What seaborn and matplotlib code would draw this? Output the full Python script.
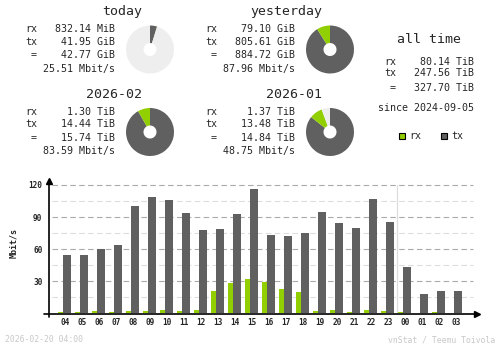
import numpy as np
import pandas as pd
import seaborn as sns
import matplotlib
matplotlib.use("Agg")
import matplotlib.pyplot as plt
from matplotlib.patches import Rectangle

# ---------------------------------------------------------------- data
hours = ["04", "05", "06", "07", "08", "09", "10", "11", "12", "13", "14", "15",
         "16", "17", "18", "19", "20", "21", "22", "23", "00", "01", "02", "03"]
rx_rate = [1.2, 1.2, 2.2, 1.2, 2.2, 2.2, 3.1, 2.2, 3.1, 20.9, 28.4, 32.1,
           29.3, 22.8, 20.0, 2.2, 3.1, 1.2, 3.1, 2.2, 1.2, 0.0, 1.2, 0.0]
tx_rate = [54.5, 54.5, 60.2, 63.9, 100.4, 108.8, 106.0, 93.8, 77.9, 78.9, 92.9, 116.3,
           73.3, 72.3, 75.1, 94.8, 84.5, 79.8, 106.9, 85.4, 43.3, 18.1, 20.9, 20.9]
y_ticks = [30, 60, 90, 120]
y_minor = [15, 45, 75, 105]

period_titles = ["today", "yesterday", "2026-02", "2026-01"]
period_rx = ["832.14 MiB", "79.10 GiB", "1.30 TiB", "1.37 TiB"]
period_tx = ["41.95 GiB", "805.61 GiB", "14.44 TiB", "13.48 TiB"]
period_total = ["42.77 GiB", "884.72 GiB", "15.74 TiB", "14.84 TiB"]
period_rate = ["25.51 Mbit/s", "87.96 Mbit/s", "83.59 Mbit/s", "48.75 Mbit/s"]
# pie amounts (GiB for days, TiB for months) and the reference used for a full circle
pie_rx = [832.14 / 1024, 79.10, 1.30, 1.37]
pie_tx = [41.95, 805.61, 14.44, 13.48]
pie_full = [884.72, 884.72, 15.74, 15.74]

alltime_rx = "80.14 TiB"
alltime_tx = "247.56 TiB"
alltime_total = "327.70 TiB"
since_text = "since 2024-09-05"
stamp_text = "2026-02-20 04:00"
credit_text = "vnStat / Teemu Toivola"

RX = "#92cf00"
TX = "#606060"
PIE_BG = "#eeeeee"
FAINT = "#c8c8c8"

# ---------------------------------------------------------------- figure
sns.set_style("white")
plt.rcParams["font.family"] = ["DejaVu Sans Mono"]

W, H = 500, 348
fig = plt.figure(figsize=(W / 100, H / 100), dpi=100)
fig.patch.set_facecolor("white")


def txt(x, y, s, ha="left", size=7.2, **kw):
    fig.text(x / W, 1 - y / H, s, ha=ha, va="center", fontsize=size, **kw)


def pie(cx, cy, tx, rx, full):
    r = 24
    ax = fig.add_axes([(cx - r) / W, 1 - (cy + r) / H, 2 * r / W, 2 * r / H])
    rest = max(full - tx - rx, 0.0)
    ax.pie([tx, rx, rest], colors=[TX, RX, PIE_BG], startangle=90,
           counterclock=False, radius=1,
           wedgeprops=dict(width=1 - 6.5 / r, linewidth=0))
    ax.set_xlim(-1, 1)
    ax.set_ylim(-1, 1)
    ax.set_aspect("equal")
    ax.axis("off")


# period summaries: 2x2 blocks
for i in range(4):
    dx = 180 * (i % 2)
    dy = 82.5 * (i // 2)
    txt(142 + dx, 11.7 + dy, period_titles[i], ha="right", size=9.5)
    txt(25 + dx, 29.3 + dy, "rx")
    txt(25 + dx, 41.7 + dy, "tx")
    txt(25 + dx, 55.0 + dy, " =")
    txt(115 + dx, 29.3 + dy, period_rx[i], ha="right")
    txt(115 + dx, 41.7 + dy, period_tx[i], ha="right")
    txt(115 + dx, 55.0 + dy, period_total[i], ha="right")
    txt(115 + dx, 69.0 + dy, period_rate[i], ha="right")
    pie(150 + dx, 49.5 + dy, pie_tx[i], pie_rx[i], pie_full[i])

# all time block
txt(429, 39.5, "all time", ha="center", size=9.5)
txt(384, 61.7, "rx")
txt(384, 73.3, "tx")
txt(384, 87.7, " =")
txt(474, 61.7, alltime_rx, ha="right")
txt(474, 73.3, alltime_tx, ha="right")
txt(474, 87.7, alltime_total, ha="right")
txt(474, 107.7, since_text, ha="right")

# legend
for x0, col, lab in [(398.5, RX, "rx"), (440.5, TX, "tx")]:
    fig.patches.append(Rectangle((x0 / W, 1 - 139.3 / H), 6 / W, 6 / H,
                                 transform=fig.transFigure, facecolor=col,
                                 edgecolor="black", linewidth=0.8))
    txt(x0 + 10.5, 136, lab)

# ---------------------------------------------------------------- hourly bars
bx0, bx1, by_top, by_bot = 48.5, 479, 179.3, 313.3
ax = fig.add_axes([bx0 / W, 1 - by_bot / H, (bx1 - bx0) / W, (by_bot - by_top) / H])
slot = 17.0
px_per_unit = (313.3 - 185.0) / 120
aw, ah = bx1 - bx0, by_bot - by_top

idx = np.arange(len(hours))
df = pd.DataFrame({"pos": idx, "rx": rx_rate, "tx": tx_rate})
for grid_vals, gcol in [(y_minor, "#dddddd"), (y_ticks, "#aaaaaa")]:
    for v in grid_vals:
        ax.axhline(v, xmin=(52 - bx0) / aw, xmax=(473 - bx0) / aw,
                   color=gcol, lw=0.8, dashes=(5, 3), zorder=0.5)

ax.axvline(19.5, ymin=0, ymax=120 / (ah / px_per_unit),
           color="#dddddd", lw=0.9, zorder=0.6)

sns.barplot(x=df["pos"] - 0.265, y=df["rx"], native_scale=True, width=0.294,
            color=RX, saturation=1, linewidth=0, errorbar=None, ax=ax, zorder=2)
sns.barplot(x=df["pos"] + 0.118, y=df["tx"], native_scale=True, width=0.47,
            color=TX, saturation=1, linewidth=0, errorbar=None, ax=ax, zorder=2)
for p in ax.patches:
    p.set_antialiased(False)

ax.set_xlim((bx0 - 65) / slot, (bx1 - 65) / slot)
ax.set_ylim(0, ah / px_per_unit)
for s in ax.spines.values():
    s.set_visible(False)
ax.set_facecolor("none")
ax.set_xlabel("")
ax.set_ylabel("")
ax.set_xticks(idx, hours)
ax.set_yticks(y_ticks, [str(v) for v in y_ticks])
ax.tick_params(axis="both", length=0, labelsize=5.6)
ax.tick_params(axis="x", pad=3.5)
ax.tick_params(axis="y", pad=4.5)
for lab in ax.get_xticklabels() + ax.get_yticklabels():
    lab.set_fontweight("bold")

# axis lines with arrowheads; the baseline sits just under the bar bottoms
base = -0.8 / ah
ax.plot([0, 0], [-3.4 / ah, 1 - 2 / ah],
        transform=ax.transAxes, color="black", lw=1.2, clip_on=False, zorder=3)
ax.plot([-4.2 / aw, 1 - 2 / aw], [base, base],
        transform=ax.transAxes, color="black", lw=1.2, clip_on=False, zorder=3)
ax.plot([0], [1 - 2 / ah], marker="^", ms=4.5, color="black",
        transform=ax.transAxes, clip_on=False, zorder=3)
ax.plot([1 - 2 / aw], [base], marker=">", ms=4.5, color="black",
        transform=ax.transAxes, clip_on=False, zorder=3)

txt(14, 243, "Mbit/s", ha="center", size=6, rotation=90, fontweight="bold")

# footer
txt(5, 340, stamp_text, size=5.9, color=FAINT)
txt(495, 340, credit_text, ha="right", size=5.9, color=FAINT)

fig.savefig("out.png", dpi=100, facecolor="white")
